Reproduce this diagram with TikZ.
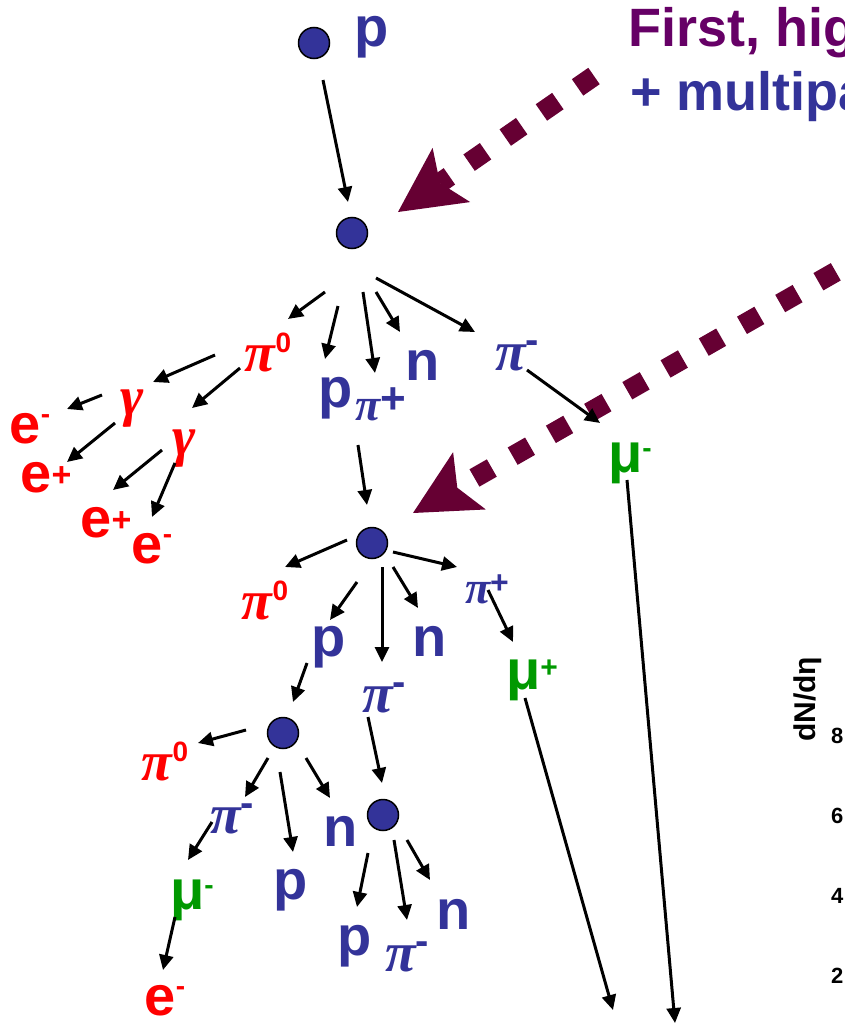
\documentclass[tikz,border=0pt]{standalone}
\usepackage{fontspec}
\setmainfont{Liberation Sans}
\newfontfamily\grk{Liberation Serif}
\usetikzlibrary{arrows.meta,calc}
\definecolor{partblue}{HTML}{333399}
\definecolor{partred}{HTML}{FF0000}
\definecolor{partgreen}{HTML}{009900}
\definecolor{hitred}{HTML}{660033}
\definecolor{headpurple}{HTML}{660066}
\newcommand\gpi{{\grk\itshape\bfseries π}}
\newcommand\ggam{{\grk\itshape\bfseries γ}}
\newcommand\upidx[3]{\raisebox{#1pt}{\fontsize{#2}{#2}\selectfont #3}}

\begin{document}
\begin{tikzpicture}[x=1pt,y=-1pt,
  dot/.style={circle,draw,line width=1.5pt,fill=partblue,minimum size=31pt,inner sep=0pt},
  lab/.style={inner sep=0pt,font=\bfseries\fontsize{56}{56}\selectfont},
  bl/.style={lab,text=partblue},rd/.style={lab,text=partred},gn/.style={lab,text=partgreen},
  arr/.style={-{Triangle[length=15pt,width=14pt]},line width=3pt},
  hit/.style={draw=hitred,line width=20pt,dash pattern=on 20pt off 24pt,
    -{Stealth[length=65pt,width=66pt,inset=14pt,line width=0pt]}}]
\useasboundingbox (0,0) rectangle (844,1025);
\clip (0,0) rectangle (844,1025);
\node[dot] (v1) at (314,43) {};
\node[dot] (v2) at (352,233) {};
\node[dot] (v3) at (372,543) {};
\node[dot] (v4) at (283,733) {};
\node[dot] (v5) at (383,815) {};
\coordinate (srcA) at (594,76);
\coordinate (srcB) at (874,250);
\draw[hit] (srcA) -- ($(v2)+(46,-21)$);
\draw[hit] (srcB) -- ($(v3)+(41,-30)$);
\node[anchor=base west,inner sep=0pt,text=headpurple,font=\bfseries\fontsize{54}{54}\selectfont] (t1) at (628,47) {First, hig};
\node[anchor=base west,inner sep=0pt,text=partblue,font=\bfseries\fontsize{54}{54}\selectfont] (t2) at (630,110) {+ multipa};
\node[rotate=90,anchor=base west,inner sep=0pt,font=\bfseries\fontsize{30}{30}\selectfont] (ax) at (815,742) {dN/dη};
\foreach \v [count=\i] in {8,6,4,2}
  \node[anchor=base west,inner sep=0pt,font=\bfseries\fontsize{22}{22}\selectfont] (k\i) at (831,663+80*\i) {\v};
\node[bl] (p0) at (372,37) {p};
\node[rd] (pz1) at (268,352) {\gpi\upidx{19}{28}{0}};
\node[bl] (pp1) at (336,398) {p};
\node[bl] (pip1) at (381,404) {\fontsize{46}{46}\selectfont\gpi\upidx{7}{44}{+}};
\node[bl] (nn1) at (423,365) {n};
\node[bl] (pim1) at (517,356) {\gpi\upidx{17}{40}{-}};
\node[gn] (mum1) at (630,463) {μ\upidx{15}{28}{-}};
\node[rd] (ga1) at (132,409) {\ggam};
\node[rd] (ga2) at (184,449) {\ggam};
\node[rd] (em1) at (30,429) {e\upidx{20}{28}{-}};
\node[rd] (ep1) at (46,478) {e\upidx{6}{34}{+}};
\node[rd] (ep2) at (106,523) {e\upidx{6}{34}{+}};
\node[rd] (em2) at (152,549) {e\upidx{20}{28}{-}};
\node[rd] (pz2) at (265,600) {\gpi\upidx{19}{28}{0}};
\node[bl] (pp2) at (329,647) {p};
\node[bl] (pim2) at (384,698) {\gpi\upidx{17}{40}{-}};
\node[bl] (nn2) at (430,641) {n};
\node[bl] (pip2) at (487,589) {\fontsize{46}{46}\selectfont\gpi\upidx{10}{32}{+}};
\node[gn] (mup2) at (532,680) {μ\upidx{12}{30}{+}};
\node[rd] (pz3) at (165,761) {\gpi\upidx{19}{28}{0}};
\node[bl] (pim3) at (232,819) {\gpi\upidx{17}{40}{-}};
\node[bl] (pp3) at (291,890) {p};
\node[bl] (nn3) at (341,831) {n};
\node[gn] (mum3) at (192,900) {μ\upidx{15}{28}{-}};
\node[rd] (em3) at (165,1001) {e\upidx{20}{28}{-}};
\node[bl] (pp4) at (355,946) {p};
\node[bl] (pim4) at (407,957) {\gpi\upidx{17}{40}{-}};
\node[bl] (nn4) at (454,914) {n};
\coordinate (gnd1) at (675,1023);
\coordinate (gnd2) at (613,1010);
\draw[arr] ($(v1)+(9,37)$) -- ($(v2)+(-4,-31)$);
\draw[arr] ($(v2)+(-27,59)$) -- ($(pz1)+(20,-33)$);
\draw[arr] ($(v2)+(-14,73)$) -- ($(pp1)+(-11,-39)$);
\draw[arr] ($(v2)+(11,59)$) -- ($(pip1)+(-6,-31)$);
\draw[arr] ($(v2)+(24,59)$) -- ($(nn1)+(-23,-33)$);
\draw[arr] ($(v2)+(24,45)$) -- ($(pim1)+(-42,-24)$);
\draw[arr] ($(pim1)+(10,14)$) -- ($(mum1)+(-30,-40)$);
\draw[arr] ($(mum1)+(-3,17)$) -- (gnd1);
\draw[arr] ($(pz1)+(-53,3)$) -- ($(ga1)+(21,-27)$);
\draw[arr] ($(pz1)+(-28,16)$) -- ($(ga2)+(8,-41)$);
\draw[arr] ($(ga1)+(-30,-14)$) -- ($(em1)+(37,-20)$);
\draw[arr] ($(ga1)+(-17,14)$) -- ($(ep1)+(21,-16)$);
\draw[arr] ($(ga2)+(-22,1)$) -- ($(ep2)+(7,-33)$);
\draw[arr] ($(ga2)+(-9,14)$) -- ($(em2)+(0,-32)$);
\draw[arr] ($(pip1)+(-23,41)$) -- ($(v3)+(-5,-38)$);
\draw[arr] ($(v3)+(-25,-3)$) -- ($(pz2)+(20,-33)$);
\draw[arr] ($(v3)+(-15,39)$) -- ($(pp2)+(1,-27)$);
\draw[arr] ($(v3)+(10,24)$) -- ($(pim2)+(-2,-36)$);
\draw[arr] ($(v3)+(21,24)$) -- ($(nn2)+(-12,-33)$);
\draw[arr] ($(v3)+(21,9)$) -- ($(pip2)+(-30,-22)$);
\draw[arr] ($(pip2)+(1,1)$) -- ($(mup2)+(-19,-38)$);
\draw[arr] ($(mup2)+(-7,18)$) -- (gnd2);
\draw[arr] ($(pp2)+(-22,16)$) -- ($(v4)+(10,-31)$);
\draw[arr] ($(pim2)+(-16,19)$) -- ($(v5)+(-1,-32)$);
\draw[arr] ($(v4)+(-37,-3)$) -- ($(pz3)+(33,-18)$);
\draw[arr] ($(v4)+(-15,25)$) -- ($(pim3)+(13,-22)$);
\draw[arr] ($(v4)+(-3,39)$) -- ($(pp3)+(2,-38)$);
\draw[arr] ($(v4)+(23,25)$) -- ($(nn3)+(-11,-33)$);
\draw[arr] ($(pim3)+(-20,3)$) -- ($(mum3)+(-4,-40)$);
\draw[arr] ($(mum3)+(-17,17)$) -- ($(em3)+(-2,-31)$);
\draw[arr] ($(v5)+(-15,38)$) -- ($(pp4)+(2,-39)$);
\draw[arr] ($(v5)+(11,25)$) -- ($(pim4)+(0,-37)$);
\draw[arr] ($(v5)+(24,25)$) -- ($(nn4)+(-24,-34)$);
\end{tikzpicture}
\end{document}
